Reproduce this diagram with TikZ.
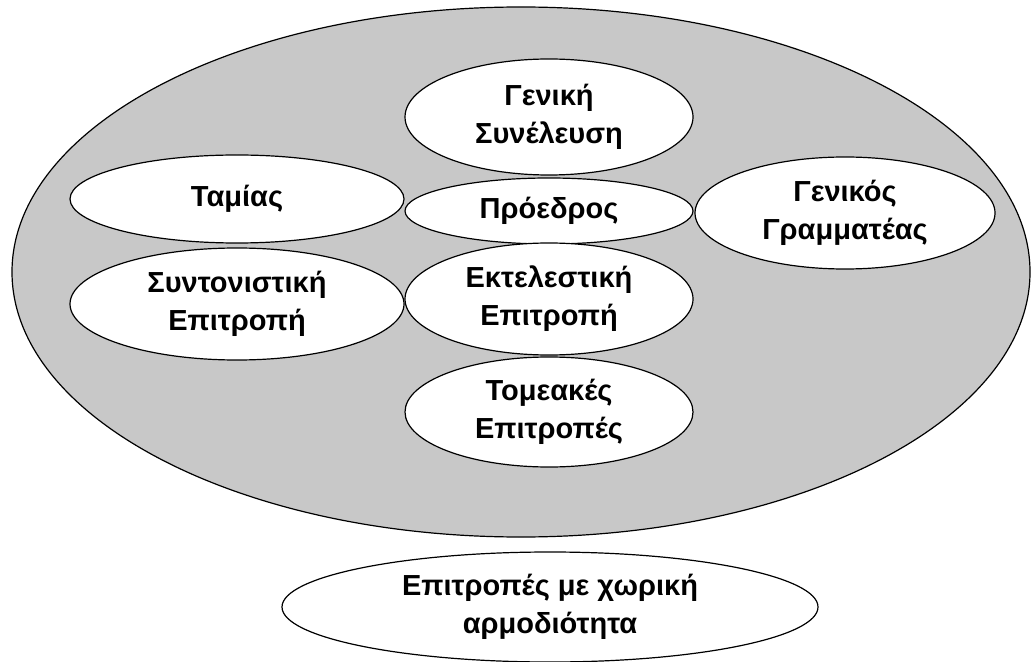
\documentclass[tikz,border=0pt]{standalone}
\usepackage{fontspec}
\setmainfont{Liberation Sans}
\usetikzlibrary{shapes.geometric}

\definecolor{orggray}{RGB}{200,200,200}

\tikzset{
  body/.style={ellipse, draw, line width=0.6pt, fill=white, inner sep=0pt,
    align=center, font=\fontsize{14.5}{19}\selectfont\bfseries},
}

\begin{document}
\begin{tikzpicture}[x=0.5pt, y=-0.5pt]
\useasboundingbox (0,0) rectangle (1031,662);
% \draw[help lines] (0,0) grid[step=50] (1031,662);

% the whole organisation
\node[ellipse, draw, line width=0.6pt, fill=orggray, minimum width=509pt, minimum height=265pt] (org) at (521,272) {};

\node[body, minimum width=144pt, minimum height=58pt] (gs) at (549,117) {Γενική\\Συνέλευση};
\node[body, minimum width=167pt, minimum height=44pt] (tam) at (237,199) {Ταμίας};
\node[body, minimum width=144pt, minimum height=33pt] (pro) at (549,211) {Πρόεδρος};
\node[body, minimum width=150pt, minimum height=56pt] (gg) at (845,213) {Γενικός\\Γραμματέας};
\node[body, minimum width=167pt, minimum height=56pt] (se) at (237,304) {Συντονιστική\\Επιτροπή};
\node[body, minimum width=144pt, minimum height=56pt] (ee) at (549,299) {Εκτελεστική\\Επιτροπή};
\node[body, minimum width=144pt, minimum height=55pt] (te) at (549,412) {Τομεακές\\Επιτροπές};

% outside
\node[body, minimum width=268pt, minimum height=55pt] (xa) at (550,607) {Επιτροπές με χωρική\\αρμοδιότητα};

\end{tikzpicture}
\end{document}
